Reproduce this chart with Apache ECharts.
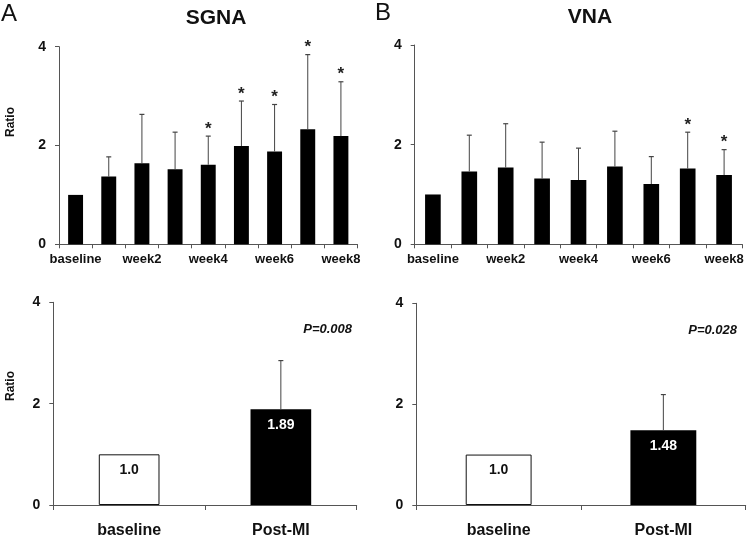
<!DOCTYPE html>
<html>
<head>
<meta charset="utf-8">
<script src="https://cdn.jsdelivr.net/npm/echarts@6/dist/echarts.min.js"></script>
<style>html,body{margin:0;padding:0;background:#fff}#c{width:748px;height:539px}</style>
</head>
<body>
<div id="c"></div>
<script>
// ---- data ----
const weekCategories = ['baseline','week1','week2','week3','week4','week5','week6','week7','week8'];
const sgnaMean  = [1.0, 1.37, 1.64, 1.52, 1.61, 1.99, 1.88, 2.33, 2.19];
const sgnaUpper = [null, 1.77, 2.63, 2.27, 2.19, 2.90, 2.83, 3.84, 3.29];
const sgnaStar  = [0, 0, 0, 0, 1, 1, 1, 1, 1];
const vnaMean   = [1.0, 1.46, 1.54, 1.32, 1.29, 1.56, 1.21, 1.52, 1.39];
const vnaUpper  = [null, 2.19, 2.42, 2.05, 1.93, 2.27, 1.76, 2.25, 1.90];
const vnaStar   = [0, 0, 0, 0, 0, 0, 0, 1, 1];
const groupCategories = ['baseline', 'Post-MI'];
const sgnaGroup = [1.0, 1.89];
const sgnaGroupUpper = [null, 2.85];
const sgnaGroupLabels = ['1.0', '1.89'];
const vnaGroup = [1.0, 1.48];
const vnaGroupUpper = [null, 2.19];
const vnaGroupLabels = ['1.0', '1.48'];
const pValues = ['P=0.008', 'P=0.028'];
const yTicks = [0, 2, 4];

const FONT = 'Liberation Sans, Arial, sans-serif';
const AXIS_COLOR = '#555';

function errData(mean, upper, star) {
  const out = [];
  for (let i = 0; i < mean.length; i++) {
    if (upper[i] != null) out.push([i, mean[i], upper[i], star ? star[i] : 0]);
  }
  return out;
}

function errSeries(idx, mean, upper, star) {
  return {
    type: 'custom', xAxisIndex: idx, yAxisIndex: idx, z: 5,
    data: errData(mean, upper, star),
    renderItem: function (params, api) {
      const b = api.coord([api.value(0), api.value(1)]);
      const t = api.coord([api.value(0), api.value(2)]);
      const children = [
        {type: 'line', shape: {x1: b[0], y1: b[1], x2: t[0], y2: t[1]}, style: {stroke: '#444', lineWidth: 1}},
        {type: 'line', shape: {x1: t[0] - 2.5, y1: t[1], x2: t[0] + 2.5, y2: t[1]}, style: {stroke: '#444', lineWidth: 1.2}}
      ];
      if (api.value(3)) {
        children.push({type: 'text', style: {text: '*', x: t[0], y: t[1] - 7, textAlign: 'center', textVerticalAlign: 'middle',
          font: 'bold 17px ' + FONT, fill: '#222'}});
      }
      return {type: 'group', children: children};
    }
  };
}

function xAxisTop(idx) {
  return {
    type: 'category', gridIndex: idx, data: weekCategories,
    axisLine: {lineStyle: {color: AXIS_COLOR, width: 1}},
    axisTick: {show: true, interval: 0, length: 4, lineStyle: {color: AXIS_COLOR}},
    axisLabel: {interval: 1, margin: 9, color: '#111', fontFamily: FONT, fontWeight: 'bold', fontSize: 13}
  };
}
function xAxisBottom(idx) {
  return {
    type: 'category', gridIndex: idx, data: groupCategories,
    axisLine: {lineStyle: {color: AXIS_COLOR, width: 1}},
    axisTick: {show: true, interval: 0, length: 5, lineStyle: {color: AXIS_COLOR}},
    axisLabel: {margin: 18, color: '#111', fontFamily: FONT, fontWeight: 'bold', fontSize: 16}
  };
}
function yAxis(idx) {
  return {
    type: 'value', gridIndex: idx, min: yTicks[0], max: yTicks[yTicks.length - 1], interval: 2,
    axisLine: {show: true, lineStyle: {color: AXIS_COLOR, width: 1}},
    axisTick: {show: true, length: 4, lineStyle: {color: AXIS_COLOR}},
    splitLine: {show: false},
    axisLabel: {margin: 13, color: '#111', fontFamily: FONT, fontWeight: 'bold', fontSize: 14}
  };
}

function groupBar(idx, vals, labels) {
  return {
    type: 'bar', xAxisIndex: idx, yAxisIndex: idx, barWidth: '40%',
    data: vals.map(function (v, i) {
      return i === 0
        ? {value: v, itemStyle: {color: '#fff', borderColor: '#111', borderWidth: 1},
           label: {color: '#111'}}
        : {value: v, itemStyle: {color: '#000'}, label: {color: '#fff'}};
    }),
    label: {show: true, position: 'insideTop', distance: 9, fontFamily: FONT, fontWeight: 'bold', fontSize: 14,
      formatter: function (p) { return labels[p.dataIndex]; }}
  };
}

const chart = echarts.init(document.getElementById('c'), null, {renderer: 'canvas'});
chart.setOption({
  backgroundColor: '#fff',
  animation: false,
  grid: [
    {left: 59, top: 46.7, width: 298.5, height: 197.6},
    {left: 414.7, top: 45, width: 327.6, height: 199.3},
    {left: 53.3, top: 302.3, width: 303.4, height: 203.4},
    {left: 416.3, top: 303.3, width: 329.4, height: 202.7}
  ],
  xAxis: [xAxisTop(0), xAxisTop(1), xAxisBottom(2), xAxisBottom(3)],
  yAxis: [yAxis(0), yAxis(1), yAxis(2), yAxis(3)],
  series: [
    {type: 'bar', xAxisIndex: 0, yAxisIndex: 0, barWidth: '45%', itemStyle: {color: '#000'}, data: sgnaMean},
    {type: 'bar', xAxisIndex: 1, yAxisIndex: 1, barWidth: '43%', itemStyle: {color: '#000'}, data: vnaMean},
    groupBar(2, sgnaGroup, sgnaGroupLabels),
    groupBar(3, vnaGroup, vnaGroupLabels),
    errSeries(0, sgnaMean, sgnaUpper, sgnaStar),
    errSeries(1, vnaMean, vnaUpper, vnaStar),
    errSeries(2, sgnaGroup, sgnaGroupUpper, null),
    errSeries(3, vnaGroup, vnaGroupUpper, null)
  ],
  graphic: [
    {type: 'text', left: 1, top: 2, style: {text: 'A', font: '24px ' + FONT, fill: '#111'}},
    {type: 'text', left: 375, top: 1, style: {text: 'B', font: '24px ' + FONT, fill: '#111'}},
    {type: 'text', x: 216, y: 18, style: {text: 'SGNA', font: 'bold 21px ' + FONT, fill: '#111', textAlign: 'center', textVerticalAlign: 'middle'}},
    {type: 'text', x: 590, y: 17, style: {text: 'VNA', font: 'bold 21px ' + FONT, fill: '#111', textAlign: 'center', textVerticalAlign: 'middle'}},
    {type: 'text', x: 11, y: 122, rotation: Math.PI / 2, style: {text: 'Ratio', font: 'bold 12px ' + FONT, fill: '#111', textAlign: 'center', textVerticalAlign: 'middle'}},
    {type: 'text', x: 11, y: 386, rotation: Math.PI / 2, style: {text: 'Ratio', font: 'bold 12px ' + FONT, fill: '#111', textAlign: 'center', textVerticalAlign: 'middle'}},
    {type: 'text', x: 352, y: 329, style: {text: pValues[0], font: 'italic bold 13px ' + FONT, fill: '#111', textAlign: 'right', textVerticalAlign: 'middle'}},
    {type: 'text', x: 737, y: 330, style: {text: pValues[1], font: 'italic bold 13px ' + FONT, fill: '#111', textAlign: 'right', textVerticalAlign: 'middle'}}
  ]
});
</script>
</body>
</html>
